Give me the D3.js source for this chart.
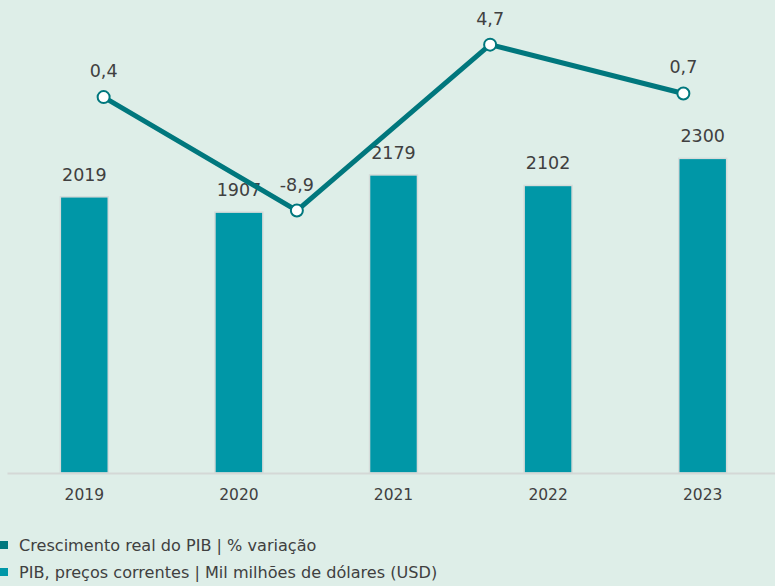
<!DOCTYPE html>
<html>
<head>
<meta charset="utf-8">
<script src="https://cdn.jsdelivr.net/npm/d3@7"></script>
<style>
  body { margin: 0; background: #deeee8; }
  svg { display: block; }
  text { font-family: 'DejaVu Sans', Verdana, sans-serif; fill: #404040; }
</style>
</head>
<body>
<svg width="775" height="586"></svg>
<script>
const years = ['2019', '2020', '2021', '2022', '2023'];
const gdp = [2019, 1907, 2179, 2102, 2300];

// growth line sits on its own 4-slot secondary axis
const growthKeys = ['2019', '2020', '2022', '2023'];
const growth = [0.4, -8.9, 4.7, 0.7];
const growthLabels = ['0,4', '-8,9', '4,7', '0,7'];

const legendItems = [
  {label: 'Crescimento real do PIB | % variação', color: '#00777d'},
  {label: 'PIB, preços correntes | Mil milhões de dólares (USD)', color: '#0097a7'}
];

const svg = d3.select('svg');

const x0 = 7, x1 = 780;
const baseY = 473;

const xScale = d3.scaleBand()
  .domain(years)
  .range([x0, x1])
  .paddingInner(0.69)
  .paddingOuter(0.345);

const yScale = d3.scaleLinear()
  .domain([0, 2500])
  .range([baseY, baseY - 342]);

const x2Scale = d3.scaleBand()
  .domain(growthKeys)
  .range([x0, x1]);

const y2Scale = d3.scaleLinear()
  .domain([-10, 6])
  .range([224, 28.8]);

// bars
svg.append('g').selectAll('rect').data(gdp)
  .enter().append('rect')
    .attr('x', (d, i) => xScale(years[i]))
    .attr('y', d => yScale(d))
    .attr('width', xScale.bandwidth())
    .attr('height', d => baseY - yScale(d))
    .attr('fill', '#0097a7')
    .attr('stroke', '#d6dcda')
    .attr('stroke-width', 1.5);

svg.append('g').selectAll('text').data(gdp)
  .enter().append('text')
    .attr('x', (d, i) => xScale(years[i]) + xScale.bandwidth() / 2)
    .attr('y', d => yScale(d) - 16)
    .attr('text-anchor', 'middle')
    .attr('font-size', 17.5)
    .text(d => d);

// x axis
const xAxisG = svg.append('g')
  .attr('transform', `translate(0,${baseY})`)
  .call(d3.axisBottom(xScale).tickSize(0).tickPadding(16));
xAxisG.select('.domain')
  .attr('stroke', '#d4d8d6')
  .attr('stroke-width', 2);
xAxisG.selectAll('.tick text')
  .attr('font-family', "'DejaVu Sans', Verdana, sans-serif")
  .attr('font-size', 15.5)
  .attr('fill', '#595959');

// growth line
const cx = (d, i) => x2Scale(growthKeys[i]) + x2Scale.bandwidth() / 2;
const line = d3.line()
  .x(cx)
  .y(d => y2Scale(d));

svg.append('path')
  .datum(growth)
  .attr('d', line)
  .attr('fill', 'none')
  .attr('stroke', '#00777d')
  .attr('stroke-width', 5)
  .attr('stroke-linejoin', 'round');

svg.append('g').selectAll('circle').data(growth)
  .enter().append('circle')
    .attr('cx', cx)
    .attr('cy', d => y2Scale(d))
    .attr('r', 6)
    .attr('fill', '#ffffff')
    .attr('stroke', '#00777d')
    .attr('stroke-width', 2);

svg.append('g').selectAll('text').data(growth)
  .enter().append('text')
    .attr('x', cx)
    .attr('y', d => y2Scale(d) - 20)
    .attr('text-anchor', 'middle')
    .attr('font-size', 17.5)
    .text((d, i) => growthLabels[i]);

// legend
const legend = svg.append('g').selectAll('g').data(legendItems)
  .enter().append('g')
    .attr('transform', (d, i) => `translate(0,${541 + i * 27})`);
legend.append('rect')
  .attr('width', 8)
  .attr('height', 8)
  .attr('fill', d => d.color);
legend.append('text')
  .attr('x', 19)
  .attr('y', 9.5)
  .attr('font-size', 16.1)
  .attr('fill', '#1f1f1f')
  .text(d => d.label);
</script>
</body>
</html>
